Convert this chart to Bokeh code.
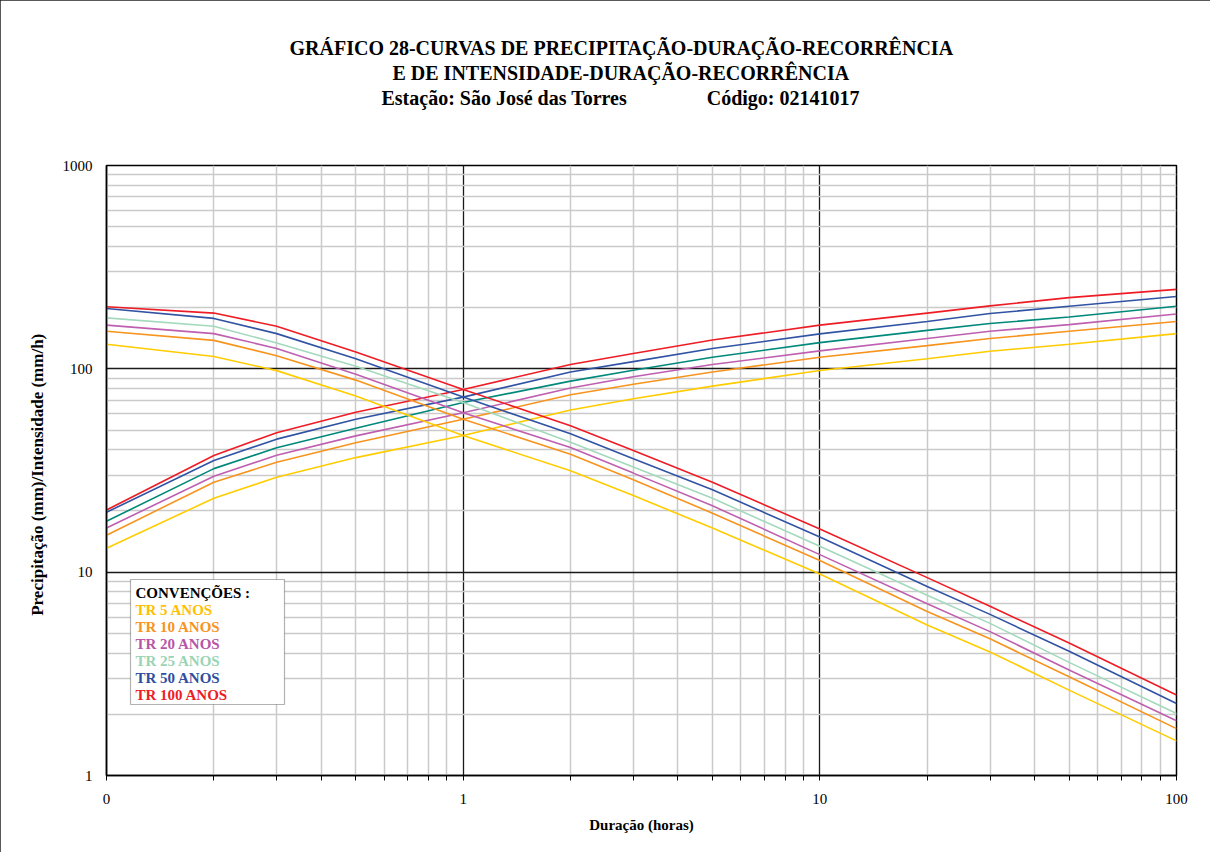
from bokeh.plotting import figure
from bokeh.models import FixedTicker, CustomJSTickFormatter, Label, BoxAnnotation, Title
from bokeh.embed import file_html
from bokeh.resources import INLINE

# ---------------- data ----------------
durations = [0.1, 0.2, 0.3, 0.5, 1, 2, 3, 5, 10, 20, 30, 50, 100]

precip_tr5   = [13.1, 23.1, 29.3, 36.6, 47.0, 62.8, 71.3, 82.2, 98.2, 112, 122, 132, 149]
precip_tr10  = [15.2, 27.7, 34.7, 43.3, 56.5, 74.5, 84.0, 96.5, 114, 130, 141, 153, 171]
precip_tr20  = [16.5, 29.6, 37.6, 46.8, 60.8, 80.5, 91.5, 105, 122.5, 141, 153, 165, 186]
precip_tr25  = [17.8, 32.3, 40.9, 51.0, 68.3, 87.0, 98.5, 114, 134.5, 154.5, 167, 180, 203]
precip_tr50  = [19.7, 35.4, 45.1, 56.5, 72.6, 96.5, 108.5, 126, 148.5, 171, 187, 203, 227]
precip_tr100 = [20.2, 37.5, 48.5, 61.2, 79.2, 105, 119, 138.5, 164, 188, 204, 224, 246]

intens_tr5   = [132, 115, 98.0, 73.5, 47.0, 31.5, 23.8, 16.5, 9.8, 5.5, 4.05, 2.63, 1.48]
intens_tr10  = [153, 138, 116, 88.0, 56.5, 38.0, 28.5, 19.5, 11.4, 6.4, 4.7, 3.06, 1.70]
intens_tr20  = [164, 149, 126, 94.0, 60.8, 41.0, 30.7, 21.2, 12.2, 7.0, 5.1, 3.3, 1.86]
intens_tr25  = [178, 162, 134, 103, 68.3, 43.6, 32.9, 23.1, 13.4, 7.7, 5.6, 3.6, 2.02]
intens_tr50  = [198, 177, 149, 112, 72.6, 48.0, 36.1, 25.4, 14.9, 8.5, 6.2, 4.08, 2.26]
intens_tr100 = [202, 188, 162, 121, 79.2, 52.5, 39.7, 27.7, 16.3, 9.4, 6.8, 4.48, 2.49]

legend_labels = ["TR 5 ANOS", "TR 10 ANOS", "TR 20 ANOS", "TR 25 ANOS", "TR 50 ANOS", "TR 100 ANOS"]

title_line1 = "GRÁFICO 28-CURVAS DE PRECIPITAÇÃO-DURAÇÃO-RECORRÊNCIA"
title_line2 = "E DE INTENSIDADE-DURAÇÃO-RECORRÊNCIA"
title_line3a = "Estação: São José das Torres"
title_line3b = "Código: 02141017"

x_ticks = [0.1, 1, 10, 100]
y_ticks = [1, 10, 100, 1000]

# ---------------- styles ----------------
precip_colors = ["#FFCC00", "#F7941D", "#BF5FB0", "#00897B", "#3153A4", "#EE1C25"]
intens_colors = ["#FFCC00", "#F7941D", "#BF5FB0", "#A3D9BD", "#3153A4", "#EE1C25"]
legend_colors = ["#FFC000", "#F7941D", "#B855A8", "#99D4B4", "#2E4E9E", "#EE1C25"]
SERIF = "Liberation Serif"

p = figure(width=1210, height=852, x_axis_type="log", y_axis_type="log",
           x_range=(0.1, 100), y_range=(1, 1000),
           output_backend="svg", toolbar_location=None,
           min_border_left=106, min_border_right=34,
           min_border_top=165, min_border_bottom=77)
p.background_fill_color = "white"
p.border_fill_color = "white"
p.outline_line_color = "black"
p.outline_line_width = 1.5
p.styles = {"outline": "1px solid #222", "outline-offset": "-1px"}

minor_x = [m * 10.0 ** e for e in (-1, 0, 1) for m in range(2, 10)]
minor_y = [m * 10.0 ** e for e in (0, 1, 2) for m in range(2, 10)]
xt = FixedTicker(ticks=x_ticks, minor_ticks=minor_x)
yt = FixedTicker(ticks=y_ticks, minor_ticks=minor_y)
p.xaxis.ticker = xt
p.yaxis.ticker = yt
p.xgrid.ticker = xt
p.ygrid.ticker = yt

for g in (p.xgrid, p.ygrid):
    g.grid_line_color = "#1a1a1a"
    g.grid_line_width = 1.3
    g.minor_grid_line_color = "#cacaca"
    g.minor_grid_line_width = 1.5

p.xaxis.formatter = CustomJSTickFormatter(code="return tick < 0.5 ? '0' : tick.toFixed(0);")
p.yaxis.formatter = CustomJSTickFormatter(code="return tick.toFixed(0);")

for ax in (p.xaxis, p.yaxis):
    ax.axis_line_color = "black"
    ax.axis_line_width = 1.5
    ax.major_label_text_font = SERIF
    ax.major_label_text_font_size = "15px"
    ax.major_label_text_color = "black"
    ax.axis_label_text_font = SERIF
    ax.axis_label_text_font_style = "bold"
    ax.axis_label_text_color = "black"
    ax.major_tick_in = 0
    ax.minor_tick_in = 0

p.xaxis.major_tick_out = 5
p.xaxis.minor_tick_out = 5
p.xaxis.major_tick_line_color = "black"
p.xaxis.minor_tick_line_color = "black"
p.xaxis.major_label_standoff = 13
p.xaxis.axis_label = "Duração (horas)"
p.xaxis.axis_label_text_font_size = "15px"
p.xaxis.axis_label_standoff = 10

p.yaxis.major_tick_out = 0
p.yaxis.minor_tick_out = 0
p.yaxis.major_label_standoff = 14
p.yaxis.axis_label = "Precipitação  (mm)/Intensidade  (mm/h)"
p.yaxis.axis_label_text_font_size = "17px"
p.yaxis.axis_label_standoff = 13

precip_series = [precip_tr5, precip_tr10, precip_tr20, precip_tr25, precip_tr50, precip_tr100]
intens_series = [intens_tr5, intens_tr10, intens_tr20, intens_tr25, intens_tr50, intens_tr100]

for vals, col in zip(precip_series, precip_colors):
    p.line(durations, vals, line_color=col, line_width=1.6)
for vals, col in zip(intens_series, intens_colors):
    p.line(durations, vals, line_color=col, line_width=1.6)

# ---------------- titles (stacked above the frame, first = nearest) ----------------
def add_title(text, offset, standoff=1):
    p.add_layout(Title(text=text, align="left", offset=offset,
                       text_font=SERIF, text_font_size="20px",
                       text_font_style="bold", text_color="black",
                       standoff=standoff), "above")

gap = "\u00a0" * 16
add_title("\u00a0", 0, standoff=32)          # spacer between titles and frame
add_title(title_line3a + gap + title_line3b, 275)
add_title(title_line2, 286)
add_title(title_line1, 183)

# ---------------- legend box ----------------
def add_text(x, y, text, size, color="black"):
    p.add_layout(Label(x=x, y=y, x_units="screen", y_units="screen", text=text,
                       text_font=SERIF, text_font_size=size, text_font_style="bold",
                       text_color=color, text_align="left", text_baseline="middle"))

p.add_layout(BoxAnnotation(left=24, right=178, top=196, bottom=71,
                           left_units="screen", right_units="screen",
                           top_units="screen", bottom_units="screen",
                           fill_color="white", fill_alpha=1.0,
                           line_color="black", line_width=1.2))
add_text(29, 183, "CONVENÇÕES :", "15px")
for i, (lab, col) in enumerate(zip(legend_labels, legend_colors)):
    add_text(29, 166 - i * 17, lab, "15px", color=col)

open("out.html", "w").write(file_html(p, INLINE))
